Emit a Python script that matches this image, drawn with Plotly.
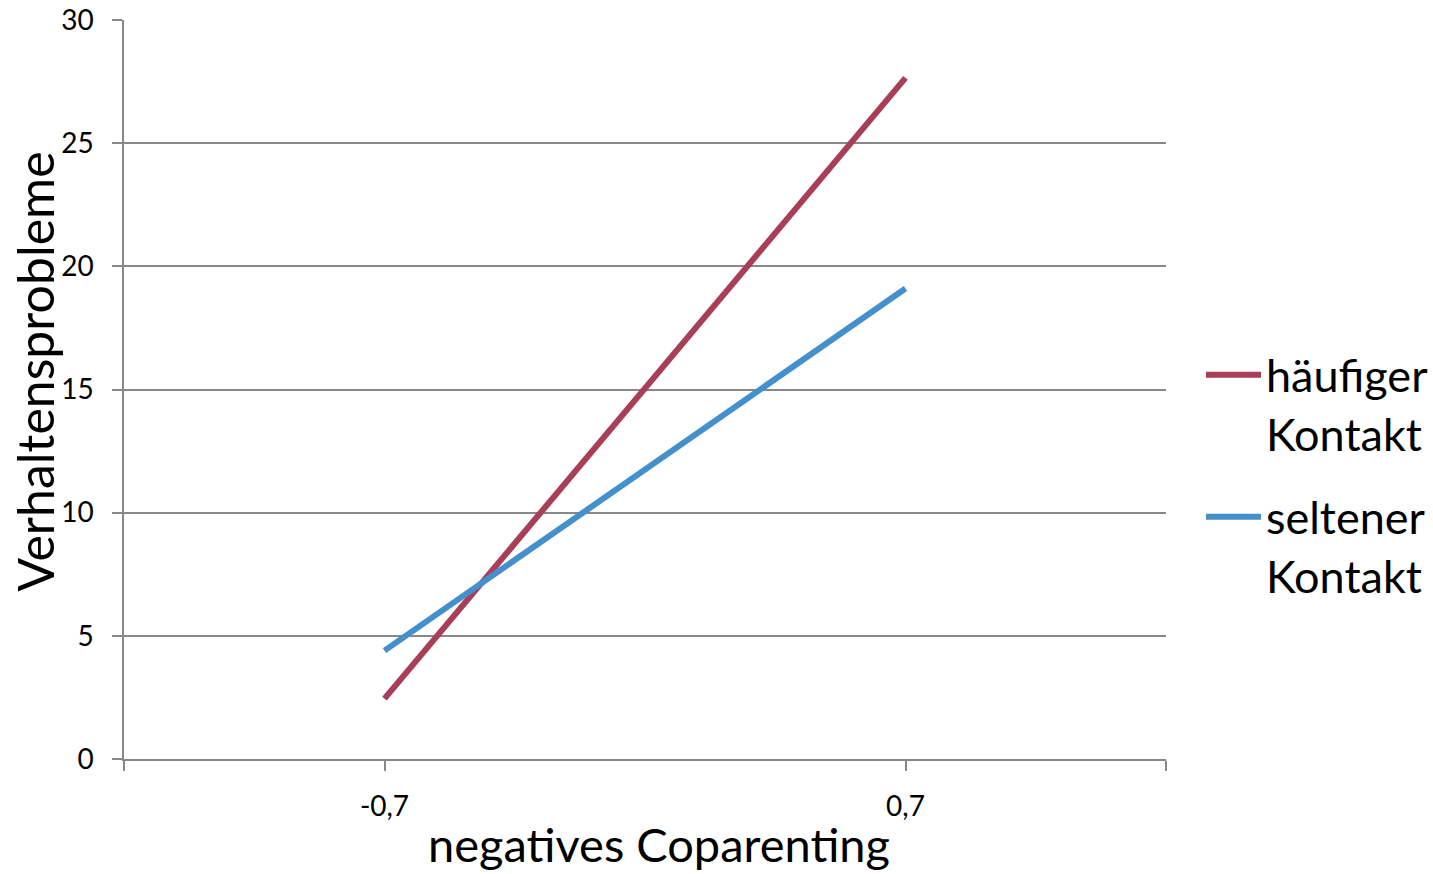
import plotly.graph_objects as go

# Category positions on the x axis and their labels
categories = ["-0,7", "0,7"]
cat_pos = [0, 1]

# Predicted behaviour-problem scores per contact group
haeufig = [2.45, 27.65]
selten = [4.4, 19.1]

series_names = ["häufiger<br>Kontakt", "seltener<br>Kontakt"]
series_colors = ["#A83E58", "#4490CC"]

y_ticks = [0, 5, 10, 15, 20, 25, 30]

FONT = "Lato"
AXIS_GREY = "#888888"

fig = go.Figure()
for i, (name, vals, col) in enumerate(zip(series_names, [haeufig, selten], series_colors)):
    fig.add_trace(go.Scatter(
        x=cat_pos, y=vals, mode="lines", name=name, legendgroup=f"g{i}",
        line=dict(color=col, width=6),
    ))

# Axis titles drawn as annotations so they can be positioned freely
fig.add_annotation(
    text="Verhaltensprobleme", textangle=-90,
    xref="paper", yref="paper", x=-0.0855, y=0.524,
    xanchor="center", yanchor="middle", showarrow=False,
    font=dict(size=50, family=FONT, color="black"),
)
fig.add_annotation(
    text="negatives Coparenting",
    xref="paper", yref="paper", x=0.5134, y=-0.1145,
    xanchor="center", yanchor="middle", showarrow=False,
    font=dict(size=47, family=FONT, color="black"),
)

fig.update_layout(
    width=1433, height=874,
    margin=dict(l=124, r=267, t=20, b=115),
    paper_bgcolor="white", plot_bgcolor="white",
    font=dict(family=FONT, color="black"),
    legend=dict(
        xref="container", yref="container",
        x=1201 / 1433, y=1 - 475 / 874, xanchor="left", yanchor="middle",
        font=dict(size=45, family=FONT),
        tracegroupgap=22, itemwidth=55, valign="top",
    ),
    xaxis=dict(
        range=[-0.5, 1.5], automargin=False,
        tickmode="array",
        tickvals=[-0.5, 0, 1, 1.5],
        ticktext=["", categories[0], categories[1], ""],
        ticks="outside", ticklen=10, tickcolor=AXIS_GREY, tickwidth=1.5,
        ticklabelstandoff=12,
        showline=True, linecolor=AXIS_GREY, linewidth=1.5,
        showgrid=False, zeroline=False,
        tickfont=dict(size=28, family=FONT),
    ),
    yaxis=dict(
        range=[0, 30], automargin=False,
        tickmode="array", tickvals=y_ticks,
        ticks="outside", ticklen=10, tickcolor=AXIS_GREY, tickwidth=1.5,
        ticklabelstandoff=13,
        showline=True, linecolor=AXIS_GREY, linewidth=1.5,
        showgrid=True, gridcolor=AXIS_GREY, gridwidth=1.5,
        zeroline=False,
        tickfont=dict(size=28, family=FONT),
    ),
)

fig.write_html("out.html")
